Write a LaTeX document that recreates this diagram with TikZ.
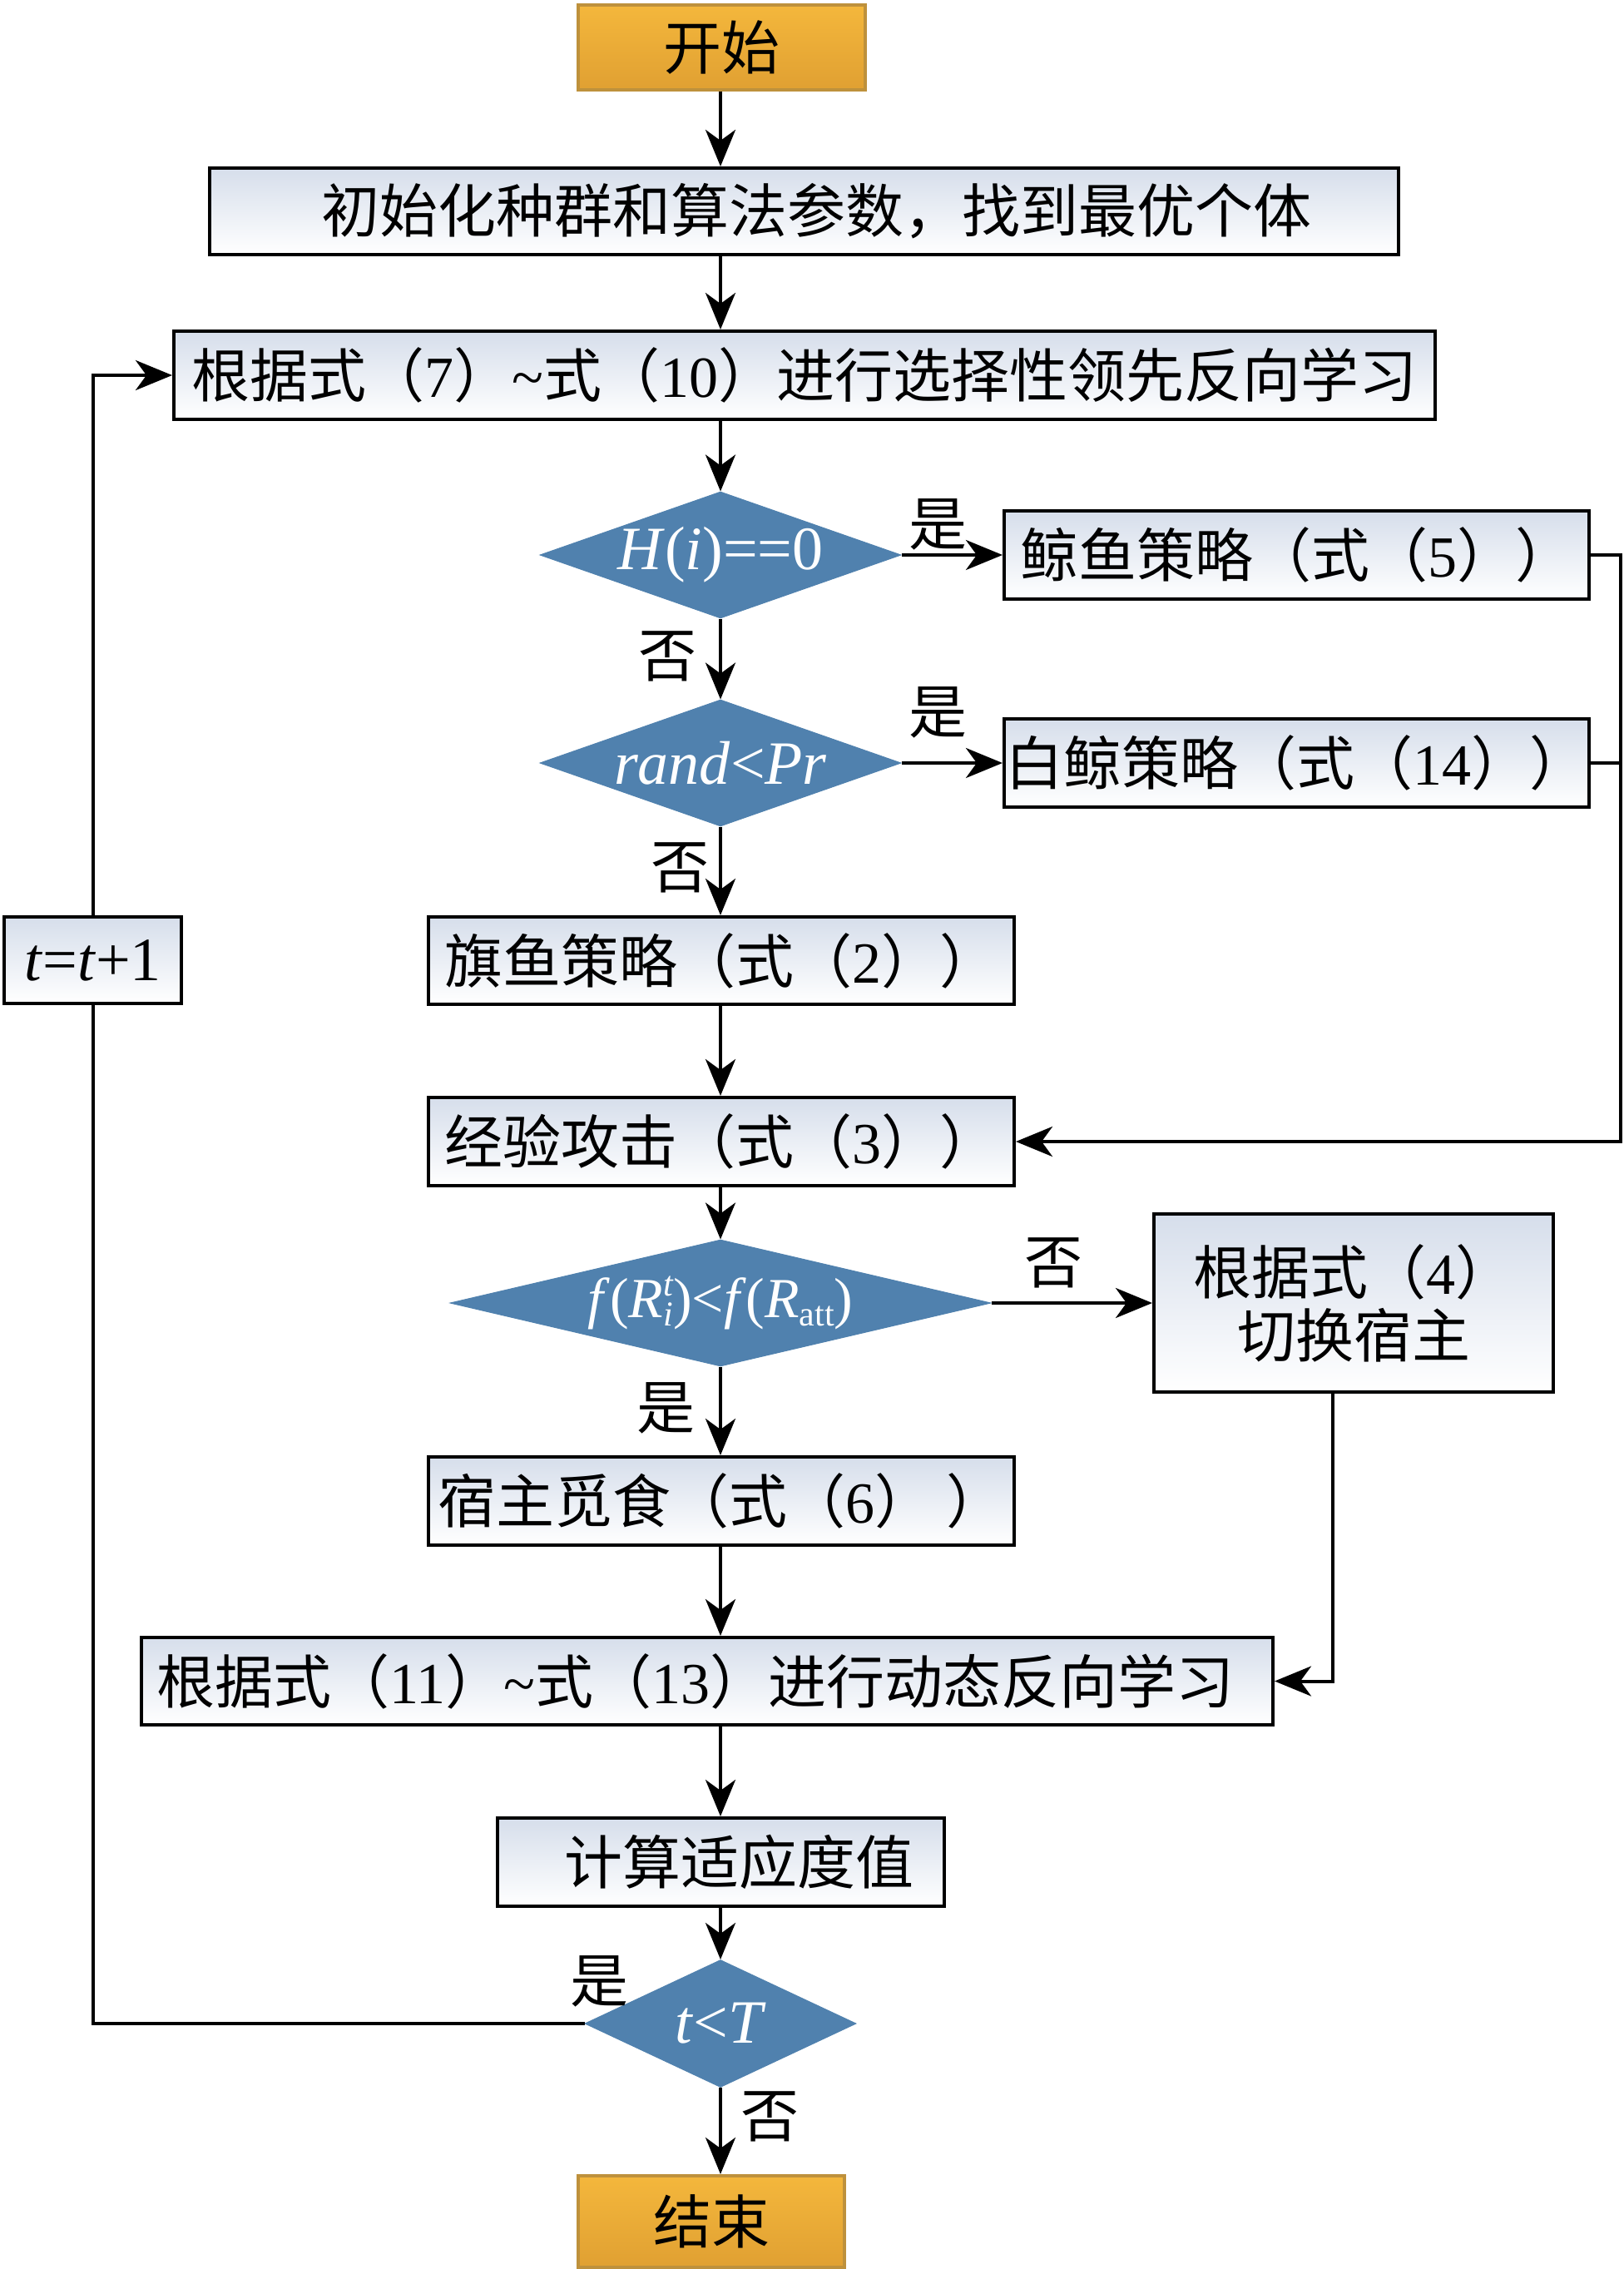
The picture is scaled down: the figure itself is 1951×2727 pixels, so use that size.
\documentclass[tikz,border=0pt]{standalone}
\usepackage{fontspec}
\setmainfont{Liberation Serif}
\newfontfamily\cjk{Noto Sans CJK SC}
\usetikzlibrary{arrows.meta,shapes.geometric}
\definecolor{boxtop}{RGB}{214,222,235}
\definecolor{goldtop}{RGB}{244,183,60}
\definecolor{goldbot}{RGB}{224,160,50}
\definecolor{goldline}{RGB}{190,145,60}
\definecolor{diafill}{RGB}{80,129,174}
\newcommand\subsz{\fontsize{42}{42}\selectfont}
\begin{document}
\begin{tikzpicture}[x=1pt,y=-1pt,
  every node/.style={font=\fontsize{70}{84}\selectfont},
  procbox/.style={draw=black, line width=4pt, top color=boxtop, bottom color=white, inner sep=0pt, align=center},
  termbox/.style={draw=goldline, line width=4pt, top color=goldtop, bottom color=goldbot, inner sep=0pt},
  decis/.style={diamond, fill=diafill, draw=diafill, line width=1pt, inner sep=0pt},
  decistext/.style={text=white, inner sep=0pt},
  lbl/.style={inner sep=0pt, font=\cjk\fontsize{70}{84}\selectfont},
  conn/.style={line width=4pt},
  arr/.style={conn, -{Stealth[length=44pt 0,width=36pt 0,inset=13pt 0]}}]
\path[use as bounding box] (0,0) rectangle (1951,2727);

\node[termbox, minimum width=345pt, minimum height=102pt] (start) at (867.5,57) {\cjk 开始};
\node[procbox, minimum width=1429pt, minimum height=104pt] (init) at (966.5,254) {\hspace*{30pt}{\cjk 初始化种群和算法参数，找到最优个体}};
\node[procbox, minimum width=1516pt, minimum height=106pt] (sola) at (967,451) {{\cjk 根据式（}7{\cjk ）}\textasciitilde{\cjk 式（}10{\cjk ）进行选择性领先反向学习}};

\node[decis, minimum width=434pt, minimum height=152pt] (d1) at (866,667) {};
\node[decistext, font=\fontsize{74}{80}\selectfont] (d1t) at (d1) {\textit{H}(\textit{i})==0};
\node[procbox, minimum width=703pt, minimum height=106pt] (whale) at (1558.5,667) {{\cjk 鲸鱼策略（式（}5{\cjk ））}};

\node[decis, minimum width=434pt, minimum height=152pt] (d2) at (866,917) {};
\node[decistext, font=\fontsize{74}{80}\selectfont] (d2t) at (d2) {\textit{rand}<\textit{Pr}};
\node[procbox, minimum width=703pt, minimum height=106pt] (beluga) at (1558.5,917) {{\cjk 白鲸策略（式（}14{\cjk ））}};

\node[procbox, minimum width=704pt, minimum height=105pt] (sail) at (867,1154.5) {{\cjk 旗鱼策略（式（}2{\cjk ））}};
\node[procbox, minimum width=704pt, minimum height=106pt] (exp) at (867,1372) {{\cjk 经验攻击（式（}3{\cjk ））}};

\node[decis, minimum width=650pt, minimum height=152pt] (d3) at (866,1566) {};
\node[decistext, font=\fontsize{68}{72}\selectfont] (d3t) at (d3) {\textit{f}(\textit{R}\makebox[0pt][l]{\raisebox{26pt}{\subsz\textit{t}}}\raisebox{-10pt}{\subsz\textit{i}})<\textit{f}(\textit{R}\raisebox{-10pt}{\subsz att})};
\node[procbox, minimum width=480pt, minimum height=214pt, font=\fontsize{70}{76}\selectfont] (sw) at (1627,1566) {{\cjk 根据式（}4{\cjk ）}\\[0pt]{\cjk 切换宿主}};

\node[procbox, minimum width=704pt, minimum height=106pt] (host) at (867,1804) {{\cjk 宿主觅食（式（}6{\cjk ）}\hspace{16pt}{\cjk ）}};
\node[procbox, minimum width=1360pt, minimum height=105pt] (dyn) at (850,2020.5) {{\cjk 根据式（}11{\cjk ）}\textasciitilde{\cjk 式（}13{\cjk ）进行动态反向学习}\hspace*{28pt}};
\node[procbox, minimum width=537pt, minimum height=106pt] (fit) at (866.5,2238) {\hspace*{44pt}{\cjk 计算适应度值}};

\node[decis, minimum width=326pt, minimum height=153pt] (d4) at (866,2432) {};
\node[decistext, font=\fontsize{74}{80}\selectfont] (d4t) at (d4) {\textit{t}<\textit{T}};
\node[termbox, minimum width=320pt, minimum height=110pt] (end) at (855,2670) {\cjk 结束};

\node[procbox, minimum width=213pt, minimum height=104pt, font=\fontsize{74}{80}\selectfont] (tt) at (111.5,1154) {\textit{t}=\textit{t}+1};

\node[lbl] (l1) at (1127,630) {是};
\node[lbl] (l2) at (802,789) {否};
\node[lbl] (l3) at (1127,856) {是};
\node[lbl] (l4) at (817,1043) {否};
\node[lbl] (l5) at (1266,1518) {否};
\node[lbl] (l6) at (800,1692) {是};
\node[lbl] (l7) at (720,2381) {是};
\node[lbl] (l8) at (925,2544) {否};

\coordinate (rc) at (1948,667);
\coordinate (swx) at (1602,1673);

\draw[arr] (start.south -| d1.north) -- (init.north -| d1.north);
\draw[arr] (init.south -| d1.north) -- (sola.north -| d1.north);
\draw[arr] (sola.south -| d1.north) -- (d1.north);
\draw[arr] (d1.east) -- (whale.west);
\draw[arr] (d1.south) -- (d2.north);
\draw[arr] (d2.east) -- (beluga.west);
\draw[arr] (d2.south) -- (sail.north -| d2.south);
\draw[arr] (sail.south -| d1.north) -- (exp.north -| d1.north);
\draw[arr] (whale.east) -- (rc) |- (exp.east);
\draw[conn] (beluga.east) -- (beluga.east -| rc);
\draw[arr] (exp.south -| d1.north) -- (d3.north);
\draw[arr] (d3.east) -- (sw.west);
\draw[arr] (d3.south) -- (host.north -| d3.south);
\draw[arr] (swx) |- (dyn.east);
\draw[arr] (host.south -| d1.north) -- (dyn.north -| d1.north);
\draw[arr] (dyn.south -| d1.north) -- (fit.north -| d1.north);
\draw[arr] (fit.south -| d1.north) -- (d4.north);
\draw[arr] (d4.south) -- (end.north -| d4.south);
\draw[conn] (d4.west) -| (tt.south);
\draw[arr] (tt.north) |- (sola.west);
\end{tikzpicture}
\end{document}
